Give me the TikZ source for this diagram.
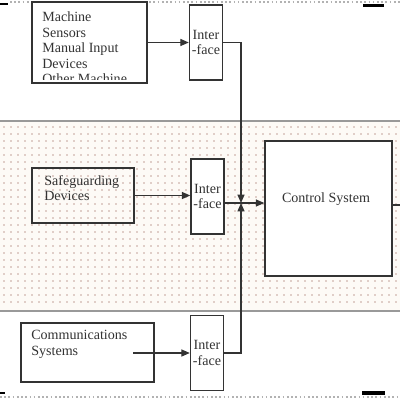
\documentclass[tikz,border=0pt]{standalone}
\usepackage{fontspec}
\setmainfont{Liberation Serif}
\usetikzlibrary{positioning,arrows.meta}
\definecolor{inkc}{HTML}{333333}
\definecolor{bandc}{HTML}{FDFAF6}
\definecolor{dotc}{HTML}{E0CEC8}
\begin{document}
\begin{tikzpicture}[x=0.025cm, y=-0.025cm, >={Triangle[length=6pt,width=5pt]}, font=\fontsize{10}{11}\selectfont, text=inkc,
box node/.style={draw=inkc, line width=1pt, inner sep=0pt},
face node/.style={box node, minimum width=0.825cm, minimum height=1.875cm, align=center},
src text/.style={inner sep=0pt, anchor=west, align=left},
wire/.style={draw=inkc, line width=0.9pt}]
\useasboundingbox (0,0) rectangle (400,400);
% middle band with dots
\fill[bandc] (0,121) rectangle (400,311);
\foreach \x in {4,11,...,400}
  \foreach \y in {127,134,...,308}
    \fill[dotc] (\x-0.7,\y-0.7) rectangle ++(1.4,1.4);
\draw[gray!80, line width=1pt] (0,121) -- (400,121);
\draw[gray!80, line width=1pt] (0,311) -- (400,311);
% page edges
\draw[gray!60, line width=0.8pt, dash pattern=on 1.2pt off 1.8pt] (10,2) -- (400,2);
\draw[gray!60, line width=0.8pt, dash pattern=on 1.2pt off 1.8pt] (0,397) -- (400,397);
\fill[black] (0,3) rectangle (8,5.5);
\fill[black] (363,4) rectangle (384,7);
\fill[black] (0,391.5) rectangle (5,394);
\fill[black] (362,391) rectangle (385,395);
% boxes
\node[box node, minimum width=2.875cm, minimum height=2.025cm] (mach) at (89.5,42.5) {};
\begin{scope}
\clip (32,2) rectangle (147,80);
\node[src text] (machtxt) at (42,48) {Machine\\Sensors\\Manual Input\\Devices\\Other Machine};
\end{scope}
\node[box node, minimum width=2.55cm, minimum height=1.375cm] (safe) at (83,195.5) {};
\node[src text] (safetxt) at (44,188) {Safeguarding\\Devices};
\node[box node, fill=white, minimum width=3.325cm, minimum height=1.475cm] (comm) at (87.5,352.5) {};
\node[src text] (commtxt) at (31,344.5) {Communications\\Systems};
\node[face node, fill=white] (face1) at (206,42.5) {Inter\\-face};
\node[face node, fill=white] (face2) at (207.5,196.5) {Inter\\-face};
\node[face node, fill=white] (face3) at (207,353) {Inter\\-face};
\node[box node, fill=white, minimum width=3.175cm, minimum height=3.375cm] (ctrl) at (328.5,208.5) {};
\node[inner sep=0pt] (ctrltxt) at (326,199) {Control System};
% connectors
\coordinate (join) at (241,203);
\coordinate (commout) at (133,353);
\coordinate (stub) at (400,205);
\draw[wire,->] (mach.east) -- (face1.west);
\draw[wire,->] (safe.east) -- (safe.east -| face2.west);
\draw[wire,->] (commout) -- (face3.west);
\draw[wire,->] (face1.east) -| (join);
\draw[wire,->] (face3.east) -| (join);
\draw[wire] (face2.east |- join) -- (join);
\draw[wire,->] (join) -- (ctrl.west |- join);
\draw[wire] (ctrl.east |- stub) -- (stub);
\end{tikzpicture}
\end{document}
